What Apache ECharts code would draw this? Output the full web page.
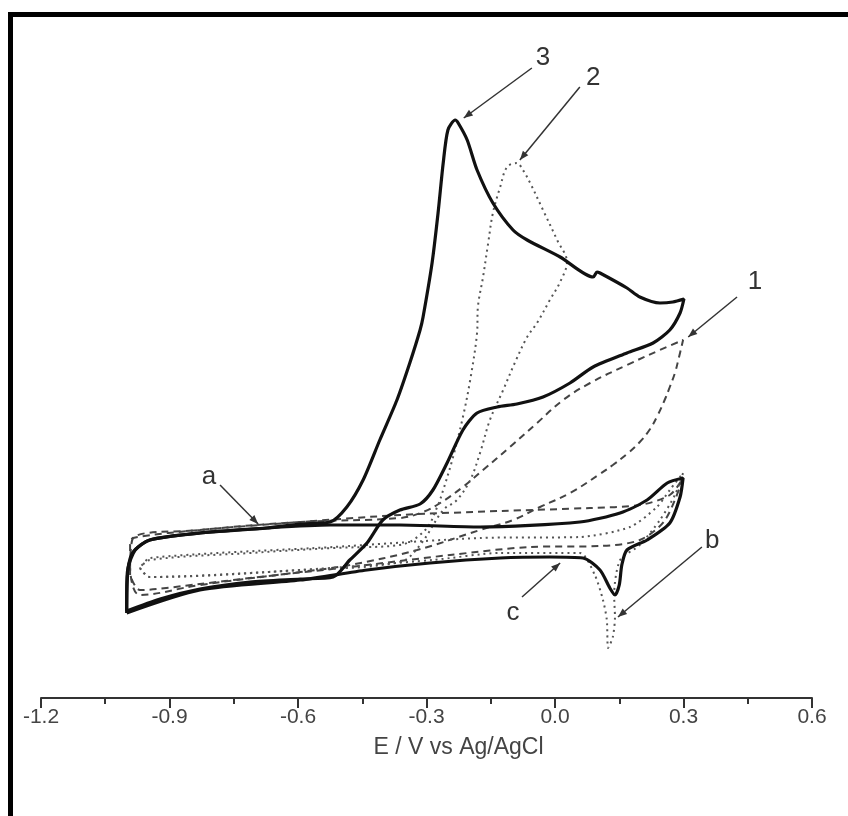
<!DOCTYPE html>
<html><head><meta charset="utf-8">
<script src="https://cdn.jsdelivr.net/npm/echarts@6/dist/echarts.min.js"></script>
<style>html,body{margin:0;padding:0;background:#fff}#c{width:848px;height:816px}</style>
</head><body><div id="c"></div>
<script>
// x axis ticks (V vs Ag/AgCl)
const xTicks = [-1.2, -0.9, -0.6, -0.3, 0.0, 0.3, 0.6];

// Curve 3 (solid, big loop): potential (V) and current (arbitrary units)
const c3E = [-1.0,-0.922,-0.829,-0.712,-0.595,-0.518,-0.479,-0.439,-0.402,-0.362,-0.315,-0.285,-0.252,-0.215,-0.182,-0.135,-0.089,-0.028,0.035,0.089,0.168,0.229,0.268,0.292,0.301,
  0.275,0.245,0.198,0.168,0.105,0.098,0.089,0.012,-0.065,-0.098,-0.145,-0.182,-0.205,-0.226,-0.233,-0.250,-0.261,-0.273,-0.287,-0.308,-0.315,-0.339,-0.369,-0.409,-0.448,-0.486,-0.525,-0.595,-0.672,-0.829,-0.946,-0.980,-0.997,-1.0,-1.0];
const c3I = [8.7,9.9,10.9,11.6,11.9,12.1,13.8,15.5,17.8,18.8,19.4,20.8,23.5,26.8,28.5,29.1,29.4,30.1,31.5,33.1,34.5,35.5,36.8,38.5,39.9,
  39.6,39.5,40.1,41.0,42.5,42.6,42.1,44.1,45.8,46.8,49.5,52.8,55.8,57.5,57.8,56.8,53.5,48.5,43.5,38.1,36.8,33.5,29.8,25.8,21.8,19.1,17.6,17.4,17.0,16.5,15.8,14.8,13.0,10.5,8.7];

// Curve c (solid, small loop)
const ccE = [-1.0,-0.829,-0.595,-0.439,-0.292,-0.128,-0.012,0.065,0.105,0.128,0.140,0.150,0.156,0.168,0.215,0.268,0.292,0.299,
  0.262,0.215,0.152,0.058,-0.175,-0.362,-0.525,-0.672,-0.829,-0.946,-0.985,-0.997,-1.0];
const ccI = [8.5,10.8,11.8,12.8,13.5,14.0,14.1,14.0,12.8,11.0,10.3,11.3,13.3,14.8,15.8,17.5,20.1,22.0,
  21.5,19.8,18.5,17.6,17.1,17.3,17.3,17.0,16.5,15.8,14.6,12.8,8.5];

// Curve 2 (dotted, big loop)
const c2E = [-0.969,-0.946,-0.595,-0.362,-0.315,-0.261,-0.229,-0.198,-0.175,-0.152,-0.121,-0.093,-0.065,-0.042,-0.012,0.012,0.028,
  0.005,-0.028,-0.058,-0.075,-0.089,-0.112,-0.128,-0.145,-0.156,-0.168,-0.180,-0.182,-0.198,-0.215,-0.238,-0.261,-0.275,-0.303,-0.362,-0.518,-0.712,-0.946,-0.969];
const c2I = [13.0,12.1,12.8,13.6,15.3,18.8,19.8,21.8,24.5,27.8,30.8,33.6,36.1,37.5,39.8,41.6,43.6,
  45.8,48.8,51.5,52.8,53.5,53.1,51.1,48.5,45.5,42.1,39.1,36.5,31.8,28.1,24.1,20.8,19.1,16.8,15.3,15.0,14.5,13.8,13.0];

// Curve b (dotted, small loop)
const cbE = [-0.969,-0.946,-0.595,-0.285,-0.128,0.058,0.093,0.112,0.121,0.124,0.135,0.140,0.138,0.152,0.198,0.245,0.280,0.299,
  0.268,0.238,0.175,0.058,-0.175,-0.518,-0.946,-0.969];
const cbI = [13.0,12.1,12.8,13.8,14.5,14.5,12.3,9.8,7.8,5.0,6.1,8.1,10.3,13.8,15.3,17.8,20.3,22.5,
  20.8,19.1,17.1,16.1,16.0,15.1,14.0,13.0];

// Curve 1 (dashed, big loop)
const c1E = [-0.992,-0.985,-0.829,-0.595,-0.362,-0.308,-0.268,-0.215,-0.168,-0.105,-0.042,0.019,0.082,0.168,0.245,0.299,
  0.289,0.280,0.268,0.256,0.240,0.222,0.198,0.168,0.135,0.105,0.035,-0.035,-0.098,-0.175,-0.322,-0.479,-0.595,-0.829,-0.969,-0.992];
const c1I = [13.0,16.0,16.8,17.6,18.0,18.6,19.5,21.1,22.8,25.1,27.5,29.8,31.5,33.3,34.8,35.8,
  34.0,32.5,31.1,29.8,28.3,26.9,25.6,24.4,23.3,22.4,20.5,19.1,17.8,16.8,14.8,13.3,12.6,11.3,10.3,13.0];

// Curve a (dashed, small loop)
const caE = [-0.992,-0.992,-0.985,-0.829,-0.595,-0.362,-0.128,0.082,0.198,0.268,0.299,
  0.257,0.198,0.105,-0.058,-0.245,-0.479,-0.712,-0.829,-0.969,-0.992];
const caI = [12.3,15.3,16.0,16.8,17.6,18.3,18.7,19.0,19.3,20.3,22.0,
  17.8,15.8,15.2,15.1,14.3,13.1,12.0,11.4,10.8,12.3];

// Annotations: label text, label position, arrow start, arrow end (data units)
const annoText = ['3','2','1','a','b','c'];
const annoLabel = [[-0.028,64.0],[0.089,62.0],[0.467,41.6],[-0.808,22.1],[0.367,15.7],[-0.098,8.5]];
const annoFrom  = [[-0.054,63.0],[0.058,61.1],[0.425,40.1],[-0.782,21.3],[0.343,15.1],[-0.077,10.1]];
const annoTo    = [[-0.213,58.0],[-0.082,53.8],[0.311,36.1],[-0.693,17.4],[0.147,8.1],[0.012,13.5]];

function pairs(E, I){ return E.map((e,i)=>[e, I[i]]); }

const chart = echarts.init(document.getElementById('c'), null, {renderer:'canvas'});
const solid = {color:'#111', width:3.2, type:'solid'};
const dotted = {color:'#555', width:2, type:[2,4]};
const dashed = {color:'#444', width:2, type:[7,5]};
const FONT = '"Liberation Sans", Arial, sans-serif';
function ser(name, E, I, ls, sm){
  return {name, type:'line', data:pairs(E,I), showSymbol:false, smooth:sm, lineStyle:ls, silent:true, animation:false, z: ls===solid?3:2};
}
chart.setOption({
  backgroundColor:'#fff',
  animation:false,
  grid:{left:41, right:36, top:98, bottom:118},
  xAxis:{type:'value', min:xTicks[0], max:xTicks[xTicks.length-1], interval:0.3,
    axisLine:{onZero:false, lineStyle:{color:'#333', width:2}},
    axisTick:{inside:false, length:10, lineStyle:{color:'#333', width:2}},
    minorTick:{show:true, splitNumber:2, length:6, lineStyle:{color:'#333', width:2}},
    splitLine:{show:false},
    axisLabel:{color:'#444', fontSize:21, fontFamily:FONT, margin:9,
      formatter:v=>v.toFixed(1)},
    name:'E / V vs Ag/AgCl', nameLocation:'middle', nameGap:38,
    nameTextStyle:{color:'#444', fontSize:23, fontFamily:FONT, padding:[0,0,0,64]}},
  yAxis:{type:'value', min:0, max:60, show:false},
  series:[
    ser('a', caE, caI, dashed, 0.3),
    ser('1', c1E, c1I, dashed, 0.4),
    ser('b', cbE, cbI, dotted, 0.25),
    ser('2', c2E, c2I, dotted, 0.35),
    ser('c', ccE, ccI, solid, 0.25),
    ser('3', c3E, c3I, solid, 0.25)
  ]
});

// Annotations drawn as graphics positioned through the chart's coordinate system
const g = [{type:'rect', shape:{x:10.5, y:14.5, width:1000, height:1000}, style:{fill:'none', stroke:'#000', lineWidth:5}, silent:true, z:100}];
annoText.forEach((t,i)=>{
  const p = chart.convertToPixel({gridIndex:0}, annoLabel[i]);
  const a = chart.convertToPixel({gridIndex:0}, annoFrom[i]);
  const b = chart.convertToPixel({gridIndex:0}, annoTo[i]);
  g.push({type:'text', x:p[0], y:p[1], style:{text:t, fill:'#333', font:'26px "Liberation Sans", Arial, sans-serif', align:'center', verticalAlign:'middle'}, silent:true, z:50});
  g.push({type:'line', shape:{x1:a[0], y1:a[1], x2:b[0], y2:b[1]}, style:{stroke:'#333', lineWidth:1.5}, silent:true, z:50});
  const ang = Math.atan2(b[1]-a[1], b[0]-a[0]);
  const L = 9, W = 3.5;
  const bx = b[0]-L*Math.cos(ang), by = b[1]-L*Math.sin(ang);
  g.push({type:'polygon', shape:{points:[[b[0],b[1]],[bx+W*Math.sin(ang), by-W*Math.cos(ang)],[bx-W*Math.sin(ang), by+W*Math.cos(ang)]]}, style:{fill:'#333'}, silent:true, z:50});
});
chart.setOption({graphic:g});
</script></body></html>
